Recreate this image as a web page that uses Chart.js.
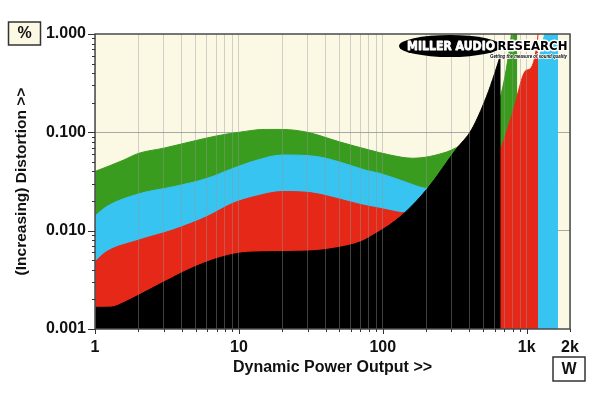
<!DOCTYPE html>
<html><head><meta charset="utf-8">
<script src="https://cdn.jsdelivr.net/npm/chart.js@4/dist/chart.umd.min.js"></script>
<style>html,body{margin:0;padding:0;background:#fff;}#wrap{position:relative;width:600px;height:393px;}</style>
</head><body><div id="wrap"><canvas id="c"></canvas></div>
<script>
// ---- data (power in W, distortion in %) ----
const blackPower = [1, 1.3, 1.6, 2, 3, 4.6, 7, 10, 15, 30, 45, 70, 90, 111, 142, 205, 325, 413, 525, 600, 660];
const blackDist  = [0.00166, 0.00167, 0.00187, 0.0022, 0.0030, 0.0041, 0.0052, 0.0059, 0.0061, 0.0062, 0.0066, 0.0077, 0.0094, 0.0114, 0.0152, 0.027, 0.068, 0.106, 0.23, 0.40, 0.62];

const redPower = [1, 1.2, 2, 3.5, 6, 9.1, 13.3, 20, 31, 48, 73, 95, 109, 142, 200, 300, 400, 500, 600, 660, 800, 1000, 1197, 1200];
const redDist  = [0.00484, 0.0061, 0.0080, 0.0102, 0.0139, 0.019, 0.0225, 0.025, 0.0244, 0.0213, 0.0182, 0.0169, 0.0162, 0.0152, 0.016, 0.022, 0.032, 0.045, 0.06, 0.069, 0.16, 0.43, 0.95, 3.0];

const bluePower = [1, 1.2, 2, 3.5, 6, 9.1, 13.3, 20, 34, 50, 77, 95, 142, 205, 300, 450, 660, 900, 1100, 1197, 1334, 1500, 1650];
const blueDist  = [0.0141, 0.0175, 0.0236, 0.028, 0.034, 0.043, 0.052, 0.0588, 0.057, 0.050, 0.041, 0.0383, 0.0315, 0.027, 0.03, 0.045, 0.06, 0.15, 0.3, 0.5, 1.0, 2.0, 3.5];

const greenPower = [1, 1.57, 2, 3, 4.6, 7, 10, 15, 20, 30, 50, 81, 111, 161, 277, 325, 400, 500, 600, 667, 783, 820, 861];
const greenDist  = [0.040, 0.052, 0.061, 0.069, 0.080, 0.092, 0.100, 0.107, 0.107, 0.100, 0.080, 0.066, 0.059, 0.0545, 0.063, 0.070, 0.085, 0.12, 0.18, 0.25, 1.0, 2.0, 3.0];

const xTickValues = [1, 10, 100, 1000, 2000];
const xTickLabels = ['1', '10', '100', '1k', '2k'];
const yTickValues = [0.001, 0.01, 0.1, 1];
const yTickLabels = ['0.001', '0.010', '0.100', '1.000'];

const X_MIN = 1, X_MAX = 2000, Y_MIN = 0.001, Y_MAX = 1;
const CREAM = '#fbf8e4';
const FONT = "'Liberation Sans', Arial, sans-serif";
const LOGO_FONT = "'DejaVu Sans', 'Liberation Sans', sans-serif";

function pts(px, py) { return px.map((p, i) => ({x: p, y: py[i]})); }
function logTicks(min, max) {
  const out = [];
  for (let e = Math.floor(Math.log10(min)); e <= Math.ceil(Math.log10(max)); e++) {
    for (let m = 1; m < 10; m++) {
      const v = +(m * Math.pow(10, e)).toPrecision(6);
      if (v >= min * 0.9999 && v <= max * 1.0001) out.push(v);
    }
  }
  return out;
}
function isDecade(v) { const l = Math.log10(v); return Math.abs(l - Math.round(l)) < 1e-6; }
function labelFor(vals, labs, v) { const i = vals.findIndex(t => Math.abs(t - v) < 1e-6 * t); return i >= 0 ? labs[i] : ''; }

function ds(label, data, color) {
  return { label, data, backgroundColor: color, borderColor: color, borderWidth: 1,
    pointRadius: 0, fill: 'start', cubicInterpolationMode: 'monotone' };
}

function fitText(ctx, text, cx, cy, width, fill, strokeColor, strokeW) {
  const w = ctx.measureText(text).width;
  ctx.save(); ctx.translate(cx, cy); ctx.scale(width / w, 1);
  if (strokeColor) { ctx.lineWidth = strokeW; ctx.strokeStyle = strokeColor; ctx.lineJoin = 'round'; ctx.strokeText(text, 0, 0); }
  ctx.fillStyle = fill; ctx.fillText(text, 0, 0);
  ctx.restore();
}

const decor = {
  id: 'decor',
  beforeDraw(chart) {
    const {ctx, chartArea: a} = chart;
    ctx.save(); ctx.fillStyle = CREAM;
    ctx.fillRect(a.left, a.top, a.right - a.left, a.bottom - a.top);
    ctx.restore();
  },
  afterDraw(chart) {
    const {ctx, chartArea: a, scales} = chart;
    ctx.save();
    // border
    ctx.strokeStyle = '#4a4a4a'; ctx.lineWidth = 1.5;
    ctx.strokeRect(a.left, a.top, a.right - a.left, a.bottom - a.top);
    // tick marks
    ctx.strokeStyle = '#333'; ctx.lineWidth = 1;
    scales.x.ticks.forEach(t => {
      const px = Math.round(scales.x.getPixelForValue(t.value)) + 0.5;
      const len = isDecade(t.value) ? 5 : 3;
      ctx.beginPath(); ctx.moveTo(px, a.bottom); ctx.lineTo(px, a.bottom + len); ctx.stroke();
    });
    scales.y.ticks.forEach(t => {
      const py = Math.round(scales.y.getPixelForValue(t.value)) + 0.5;
      const len = isDecade(t.value) ? 7 : 3;
      ctx.beginPath(); ctx.moveTo(a.left - len, py); ctx.lineTo(a.left, py); ctx.stroke();
    });
    // unit boxes
    ctx.lineWidth = 1.5; ctx.strokeStyle = '#333';
    ctx.fillStyle = CREAM; ctx.fillRect(8.5, 22, 32, 23); ctx.strokeRect(8.5, 22, 32, 23);
    ctx.fillStyle = '#fff'; ctx.fillRect(553, 357, 32, 24); ctx.strokeRect(553, 357, 32, 24);
    ctx.fillStyle = '#111'; ctx.font = 'bold 16px ' + FONT;
    ctx.textAlign = 'center'; ctx.textBaseline = 'middle';
    ctx.fillText('%', 24.5, 34);
    ctx.fillText('W', 569, 370);
    // logo
    ctx.fillStyle = '#000';
    ctx.beginPath(); ctx.ellipse(450, 46, 51, 11, 0, 0, Math.PI * 2); ctx.fill();
    ctx.font = 'bold 13px ' + LOGO_FONT;
    fitText(ctx, 'MILLER AUDIO', 451, 47, 88, '#fff', '#fff', 0.8);
    fitText(ctx, 'RESEARCH', 532.5, 47, 70, '#000', '#fff', 3);
    ctx.font = 'italic bold 6px ' + FONT;
    fitText(ctx, 'Getting the measure of sound quality', 528.5, 56.5, 77, '#000', '#fff', 1.5);
    ctx.restore();
  }
};

new Chart(document.getElementById('c'), {
  type: 'line',
  data: { datasets: [
    ds('8 ohm', pts(blackPower, blackDist), '#000000'),
    ds('4 ohm', pts(redPower, redDist), '#e62818'),
    ds('2 ohm', pts(bluePower, blueDist), '#38c4f0'),
    ds('1 ohm', pts(greenPower, greenDist), '#3a9c1e')
  ]},
  options: {
    responsive: true, maintainAspectRatio: false, animation: false, devicePixelRatio: 1,
    layout: { padding: { top: 34, right: 30, bottom: 0, left: 0 } },
    plugins: { legend: { display: false }, tooltip: { enabled: false } },
    scales: {
      x: {
        type: 'logarithmic', min: X_MIN, max: X_MAX,
        afterBuildTicks: s => { s.ticks = logTicks(X_MIN, X_MAX).map(v => ({value: v})); },
        afterFit: s => { s.height = 64; },
        grid: { z: 1, color: 'rgba(150,150,150,0.42)', lineWidth: 1, drawTicks: false },
        border: { display: false },
        ticks: { autoSkip: false, maxRotation: 0, padding: 9, color: '#111',
          font: { family: FONT, weight: 'bold', size: 16 },
          callback: v => labelFor(xTickValues, xTickLabels, v) },
        title: { display: true, text: 'Dynamic Power Output >>', color: '#111',
          font: { family: FONT, weight: 'bold', size: 16 }, padding: { bottom: 16 } }
      },
      y: {
        type: 'logarithmic', min: Y_MIN, max: Y_MAX,
        afterBuildTicks: s => { s.ticks = logTicks(Y_MIN, Y_MAX).map(v => ({value: v})); },
        afterFit: s => { s.width = 95; },
        grid: { color: c => (c.tick && isDecade(c.tick.value) && c.tick.value > Y_MIN * 1.01 && c.tick.value < Y_MAX * 0.99) ? '#a8a8a8' : 'rgba(0,0,0,0)', drawTicks: false },
        border: { display: false },
        ticks: { autoSkip: false, padding: 9, color: '#111',
          font: { family: FONT, weight: 'bold', size: 16 },
          callback: v => labelFor(yTickValues, yTickLabels, v) },
        title: { display: true, text: '(Increasing) Distortion >>', color: '#111',
          font: { family: FONT, weight: 'bold', size: 15.5 }, padding: { top: 12 } }
      }
    }
  },
  plugins: [decor]
});
</script></body></html>
